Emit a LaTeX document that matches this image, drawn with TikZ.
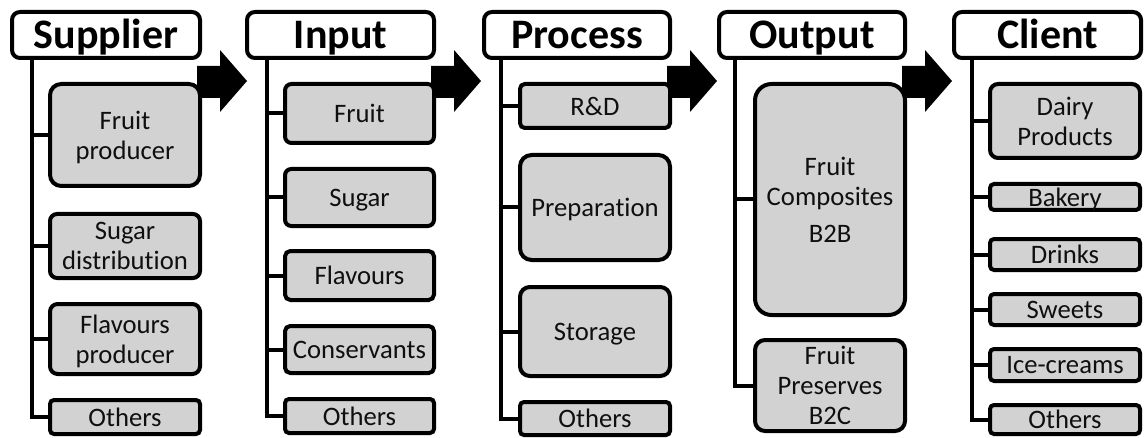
\documentclass[tikz,border=0pt]{standalone}
\usepackage{fontspec}
\setmainfont{Carlito}[Ligatures={NoCommon}]
\usetikzlibrary{backgrounds}
\definecolor{boxgray}{RGB}{210,210,210}
\definecolor{ink}{RGB}{15,15,15}

\tikzset{
  itembox/.style={draw=black, line width=3pt, fill=boxgray, text=ink,
    inner sep=0pt, align=center, text depth=0pt,
    font=\fontsize{20}{22.5}\selectfont},
  headbox/.style={draw=black, line width=3pt, fill=white, text=black,
    inner sep=0pt, rounded corners=6pt, text height=20pt, text depth=0pt,
    font=\fontsize{31.5}{36}\selectfont\bfseries},
  trunk/.style={draw=black, line width=3pt},
  flowarrow/.style={fill=black},
}

% rounded box given by its outer pixel edges (x1,y1)-(x2,y2)
\newcommand\itemnode[6]{%
  \pgfmathsetmacro\bw{(#4-#2-4)*0.75}%
  \pgfmathsetmacro\bh{(#5-#3-4)*0.75}%
  \pgfmathsetmacro\br{max(3,0.11*min(\bw,\bh))}%
  \node[itembox, minimum width=\bw pt, minimum height=\bh pt,
        rounded corners=\br pt] (#1) at ({(#2+#4)/2},{(#3+#5)/2}) {#6};}
\newcommand\headnode[6]{%
  \pgfmathsetmacro\bw{(#4-#2-4)*0.75}%
  \pgfmathsetmacro\bh{(#5-#3-4)*0.75}%
  \node[headbox, minimum width=\bw pt, minimum height=\bh pt]
        (#1) at ({(#2+#4)/2},{(#3+#5)/2}) {#6};}

\begin{document}
\begin{tikzpicture}[x=0.75pt,y=-0.75pt]
\useasboundingbox (0,0) rectangle (1144,438);

% block arrows between the columns (behind the boxes)
\foreach \r in {202,436,672,907}{
  \fill[flowarrow] (\r-5,66) -- (\r+18,66) -- (\r+18,50) -- (\r+45,81)
    -- (\r+18,112) -- (\r+18,98) -- (\r-5,98) -- cycle;
}

% trunk positions
\coordinate (tS) at (32,0);
\coordinate (tI) at (267,0);
\coordinate (tP) at (501,0);
\coordinate (tO) at (735,0);
\coordinate (tC) at (972,0);

% headers
\headnode{hS}{10}{10}{202}{60}{Supplier}
\headnode{hI}{245}{10}{436}{60}{Input}
\headnode{hP}{482}{10}{672}{60}{Process}
\headnode{hO}{717}{10}{907}{60}{Output}
\headnode{hC}{952}{10}{1143}{60}{Client}

% Supplier
\itemnode{s1}{48}{82}{202}{188}{Fruit\\producer}
\itemnode{s2}{48}{212}{202}{280}{Sugar\\distribution}
\itemnode{s3}{48}{302}{202}{376}{Flavours\\producer}
\itemnode{s4}{48}{398}{202}{436}{Others}

% Input
\itemnode{i1}{283}{82}{436}{145}{Fruit}
\itemnode{i2}{283}{167}{436}{228}{Sugar}
\itemnode{i3}{283}{249}{436}{302}{Flavours}
\itemnode{i4}{283}{324}{436}{375}{Conservants}
\itemnode{i5}{283}{397}{436}{435}{Others}

% Process
\itemnode{p1}{518}{82}{672}{130}{R\&D}
\itemnode{p2}{518}{153}{672}{262}{Preparation}
\itemnode{p3}{518}{285}{672}{378}{Storage}
\itemnode{p4}{518}{400}{672}{437}{Others}

% Output
\itemnode{o1}{753}{82}{907}{317}{Fruit\\Composites\\[5pt]B2B}
\itemnode{o2}{753}{338}{907}{433}{Fruit\\Preserves\\B2C}

% Client
\itemnode{c1}{988}{82}{1142}{160}{Dairy\\Products}
\itemnode{c2}{988}{182}{1142}{212}{Bakery}
\itemnode{c3}{988}{237}{1142}{272}{Drinks}
\itemnode{c4}{988}{292}{1142}{327}{Sweets}
\itemnode{c5}{988}{347}{1142}{383}{Ice-creams}
\itemnode{c6}{988}{403}{1142}{436}{Others}

% trunks and branches, drawn under the boxes
\begin{pgfonlayer}{background}
\foreach \h/\t/\last/\kids in {hS/tS/s4/{s1,s2,s3},hI/tI/i5/{i1,i2,i3,i4},
    hP/tP/p4/{p1,p2,p3},hO/tO/o2/{o1},hC/tC/c6/{c1,c2,c3,c4,c5}}{
  \draw[trunk] (\h.south -| \t) |- (\last.west);
  \foreach \k in \kids { \draw[trunk] (\k.west) -- (\k.west -| \t); }
}
\end{pgfonlayer}
\end{tikzpicture}
\end{document}
